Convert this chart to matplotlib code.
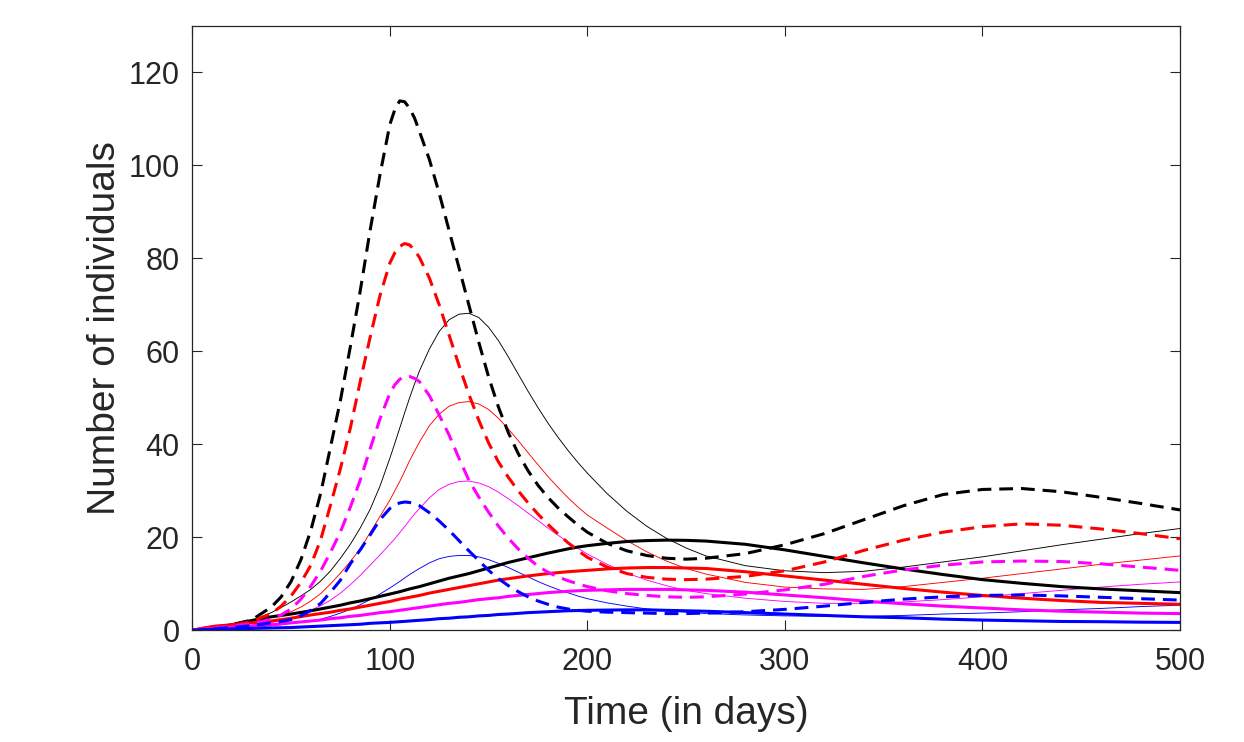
import numpy as np
import matplotlib
matplotlib.use("Agg")
import matplotlib.pyplot as plt

# time grid (days)
t = [0, 10, 20, 30, 40,
     45, 50, 55, 60, 65, 70, 75, 80, 85, 90, 95, 100, 102.5, 105, 107.5, 110, 112.5, 115,
     120, 125, 130, 135, 140, 145, 150, 155, 160,
     165, 170, 175, 180, 185, 190, 195, 200,
     210, 220, 230, 240, 250, 260,
     280, 300, 320, 340, 360, 380, 400, 420, 440, 460, 480, 500]

# dashed (thick) series
black_dashed = [0, 0.4, 1.2, 2.2, 5.0,
                7.2, 10.5, 15.2, 21.5, 29.5, 39.5, 49.5, 61, 73, 86, 98, 108.8, 112.0, 113.9, 113.7, 112.3, 110.2, 107.3,
                101.3, 94, 86, 78, 70, 62, 54.5, 48, 42.5,
                38, 34.3, 31.2, 28.6, 26.4, 24.5, 22.7, 21.1,
                18.7, 17.1, 16.1, 15.5, 15.3, 15.5,
                16.5, 18.4, 20.8, 23.8, 26.8, 29.2, 30.3, 30.5, 29.8, 28.6, 27.3, 25.9]
red_dashed = [0, 0.8, 1.1, 1.9, 3.6,
              5.2, 7.4, 10.3, 14, 19.5, 27, 34.8, 43.5, 53.5, 63, 72, 79, 81.2, 82.6, 83.2, 82.9, 81.8, 80.2,
              75.8, 70, 63.5, 57, 50.8, 45.2, 40.3, 36.2, 32.9,
              30.0, 27.4, 25.0, 22.8, 20.8, 18.9, 17.2, 15.7,
              13.6, 12.2, 11.4, 11.0, 10.9, 11.0,
              11.6, 12.8, 14.7, 17.2, 19.4, 21.1, 22.3, 22.9, 22.6, 21.8, 20.8, 19.7]
magenta_dashed = [0, 0.5, 0.9, 1.4, 2.4,
                  3.3, 4.6, 6.7, 9.5, 12.8, 16.8, 21.2, 26.5, 32.3, 39, 45.5, 51, 52.8, 54, 54.6, 54.6, 54.2, 53.5,
                  50.5, 46.3, 42, 37, 32.3, 28.7, 25.4, 22.4, 19.8,
                  17.5, 15.5, 13.8, 12.5, 11.5, 10.7, 10.0, 9.4,
                  8.5, 7.9, 7.5, 7.2, 7.1, 7.2,
                  7.8, 8.7, 9.9, 11.6, 13.0, 14.0, 14.7, 14.9, 14.8, 14.3, 13.6, 12.9]
blue_dashed = [0, 0.3, 0.6, 1.0, 1.6,
               1.9, 2.3, 3.1, 4.3, 5.8, 8.2, 10.8, 14.3, 17.3, 20.5, 23.8, 26.2, 27.0, 27.4, 27.6, 27.5, 27.2, 26.8,
               25.3, 23.5, 21.5, 19.3, 17.1, 15, 12.9, 11.1, 9.6,
               8.3, 7.2, 6.3, 5.6, 5.0, 4.6, 4.3, 4.1,
               3.9, 3.8, 3.7, 3.6, 3.6, 3.7,
               4.0, 4.5, 5.2, 6.0, 6.7, 7.2, 7.5, 7.6, 7.4, 7.1, 6.8, 6.5]

# thin solid series
black_thin = [0, 0.4, 1.1, 2.0, 3.8,
              4.9, 6.1, 7.4, 8.8, 10.6, 12.8, 15.5, 18.5, 22, 26, 31, 37, 40.2, 43.5, 46.8, 50, 53, 55.8,
              60.5, 64.3, 66.8, 68, 68.2, 67.3, 65.2, 62.3, 58.8,
              55.1, 51.4, 47.9, 44.6, 41.6, 38.8, 36.2, 33.8,
              29.4, 25.6, 22.4, 19.8, 17.7, 16.0,
              13.9, 12.8, 12.4, 12.7, 13.6, 14.7, 15.8, 17.1, 18.4, 19.6, 20.8, 21.9]
red_thin = [0, 0.6, 1.0, 1.7, 2.8,
            3.3, 4.0, 5.0, 6.3, 7.9, 10, 12.3, 14.8, 17.5, 21, 24.5, 28, 30, 32, 34.2, 36.5, 38.5, 40.5,
            44, 46.5, 48.2, 49, 49.2, 48.7, 47.5, 45.6, 43.3,
            40.8, 38.2, 35.6, 33.1, 30.8, 28.6, 26.6, 24.8,
            22.0, 19.3, 16.9, 14.9, 13.3, 12.1,
            10.3, 9.3, 8.9, 8.8, 9.4, 10.3, 11.2, 12.2, 13.2, 14.2, 15.1, 16.0]
magenta_thin = [0, 0.4, 0.7, 1.1, 1.7,
                2.1, 2.5, 3.4, 4.3, 5.3, 6.5, 8.0, 9.8, 11.8, 14, 16.2, 18.5, 19.7, 21, 22.3, 23.7, 25, 26.2,
                28.5, 30.3, 31.4, 32, 32.1, 31.7, 30.9, 29.7, 28.3,
                26.8, 25.2, 23.6, 22.0, 20.5, 19.0, 17.7, 16.4,
                14.2, 12.3, 10.8, 9.6, 8.6, 7.9,
                6.9, 6.2, 5.8, 5.8, 6.1, 6.6, 7.2, 7.9, 8.6, 9.3, 9.9, 10.4]
blue_thin = [0, 0.2, 0.4, 0.6, 1.0,
             1.2, 1.5, 1.7, 2.0, 2.4, 3.0, 3.7, 4.5, 5.5, 6.6, 7.8, 9.1, 9.8, 10.5, 11.25, 12, 12.65, 13.3,
             14.5, 15.4, 15.9, 16.1, 16.1, 15.8, 15.2, 14.4, 13.5,
             12.5, 11.5, 10.5, 9.6, 8.8, 8.1, 7.4, 6.8,
             5.9, 5.2, 4.6, 4.2, 3.9, 3.6,
             3.3, 3.1, 3.0, 3.0, 3.2, 3.5, 3.7, 4.0, 4.4, 4.7, 5.1, 5.4]

# thick solid series
black_thick = [0, 0.5, 1.2, 2.1, 2.9,
               3.2, 3.5, 3.85, 4.2, 4.6, 5.0, 5.4, 5.9, 6.3, 6.8, 7.3, 7.8, 8.05, 8.3, 8.6, 8.9, 9.15, 9.4,
               10, 10.6, 11.2, 11.7, 12.2, 12.8, 13.4, 14, 14.6,
               15.1, 15.6, 16.1, 16.6, 17.05, 17.5, 17.9, 18.2,
               18.7, 19.1, 19.3, 19.4, 19.35, 19.2,
               18.5, 17.3, 15.9, 14.5, 13.2, 12, 10.9, 10.1, 9.4, 8.9, 8.5, 8.1]
red_thick = [0, 0.8, 1.2, 1.6, 2.0,
             2.3, 2.6, 2.95, 3.3, 3.6, 3.9, 4.3, 4.6, 5.0, 5.4, 5.8, 6.2, 6.45, 6.7, 6.9, 7.1, 7.3, 7.5,
             8.0, 8.4, 8.8, 9.2, 9.6, 10, 10.4, 10.8, 11.1,
             11.4, 11.7, 11.95, 12.2, 12.4, 12.6, 12.75, 12.9,
             13.2, 13.4, 13.5, 13.5, 13.4, 13.3,
             12.6, 11.7, 10.8, 9.9, 9.0, 8.2, 7.5, 6.9, 6.4, 6.0, 5.8, 5.6]
magenta_thick = [0, 0.4, 0.7, 0.9, 1.2,
                 1.4, 1.6, 1.8, 2.0, 2.2, 2.5, 2.7, 3.0, 3.2, 3.5, 3.8, 4.0, 4.15, 4.3, 4.45, 4.6, 4.75, 4.9,
                 5.2, 5.5, 5.8, 6.0, 6.3, 6.6, 6.8, 7.0, 7.3,
                 7.5, 7.7, 7.9, 8.1, 8.25, 8.4, 8.5, 8.6,
                 8.7, 8.8, 8.8, 8.8, 8.7, 8.6,
                 8.2, 7.6, 7.0, 6.3, 5.7, 5.2, 4.8, 4.4, 4.1, 3.9, 3.7, 3.6]
blue_thick = [0, 0.2, 0.3, 0.4, 0.5,
              0.55, 0.6, 0.7, 0.8, 0.9, 1.0, 1.1, 1.2, 1.3, 1.5, 1.6, 1.7, 1.78, 1.85, 1.92, 2.0, 2.08, 2.15,
              2.3, 2.5, 2.6, 2.8, 2.9, 3.1, 3.2, 3.4, 3.5,
              3.65, 3.8, 3.9, 4.0, 4.1, 4.2, 4.25, 4.3,
              4.35, 4.4, 4.4, 4.3, 4.2, 4.1,
              3.8, 3.5, 3.2, 2.9, 2.7, 2.4, 2.2, 2.05, 1.9, 1.85, 1.75, 1.7]

x_ticks = [0, 100, 200, 300, 400, 500]
y_ticks = [0, 20, 40, 60, 80, 100, 120]

plt.rcParams['font.family'] = ['Liberation Sans', 'DejaVu Sans']
TXT = '#262626'
MAG = '#ff00ff'

fig = plt.figure(figsize=(12.44, 7.42), dpi=100)
ax = fig.add_axes([192.3 / 1244, 1 - 630.3 / 742, (1180 - 192.3) / 1244, (630.3 - 26) / 742])

dash = (0, (4.5, 2.6))
LW_THICK = 2.2
LW_THIN = 0.65

for ys, c in [(black_thin, 'k'), (red_thin, 'r'), (magenta_thin, MAG), (blue_thin, 'b')]:
    ax.plot(t, ys, color=c, lw=LW_THIN)
for ys, c in [(black_thick, 'k'), (red_thick, 'r'), (magenta_thick, MAG), (blue_thick, 'b')]:
    ax.plot(t, ys, color=c, lw=LW_THICK, solid_joinstyle='round')
for ys, c in [(black_dashed, 'k'), (red_dashed, 'r'), (magenta_dashed, MAG), (blue_dashed, 'b')]:
    ax.plot(t, ys, color=c, lw=LW_THICK, linestyle=dash, dash_capstyle='butt')

ax.set_xlim(0, 500)
ax.set_ylim(0, 130)
ax.set_xticks(x_ticks)
ax.set_yticks(y_ticks)
ax.tick_params(direction='in', length=7, width=0.8, color=TXT, labelcolor=TXT,
               labelsize=22, top=True, right=True)
ax.tick_params(axis='x', pad=12)
ax.tick_params(axis='y', pad=9)
for s in ax.spines.values():
    s.set_color(TXT)
    s.set_linewidth(0.9)

ax.set_xlabel('Time (in days)', fontsize=28, color=TXT, labelpad=14)
ax.set_ylabel('Number of individuals', fontsize=28, color=TXT, labelpad=4)

fig.savefig('out.png', dpi=100, facecolor='white')
